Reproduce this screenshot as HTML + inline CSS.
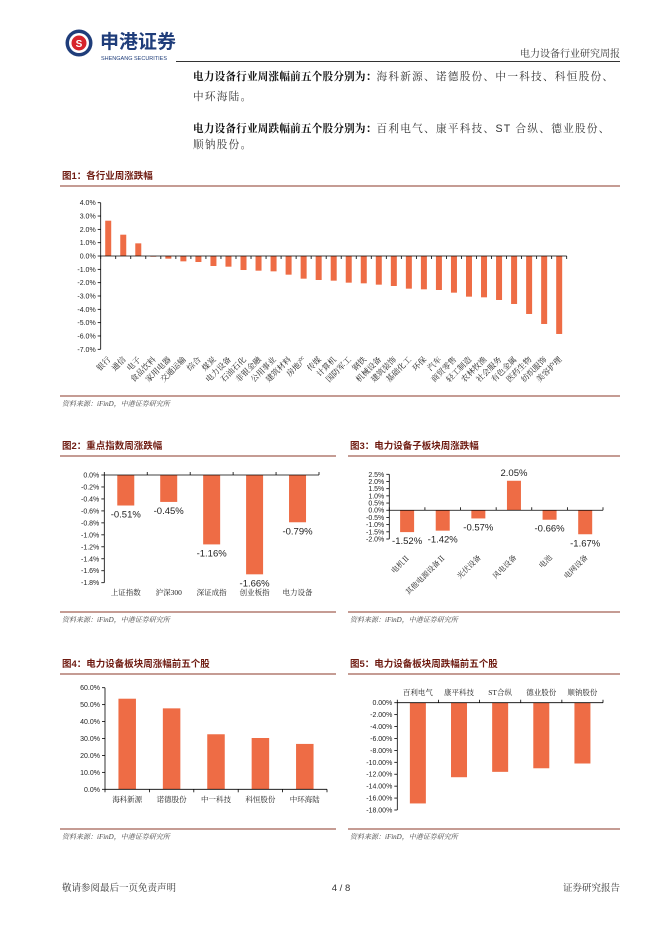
<!DOCTYPE html>
<html><head><meta charset="utf-8">
<style>
html,body{margin:0;padding:0;background:#fff;}
body{width:662px;height:936px;overflow:hidden;position:relative;font-family:"Liberation Serif","Noto Serif CJK SC",serif;}
svg text{font-family:"Liberation Sans","Noto Sans CJK SC",sans-serif;}
.p{position:absolute;left:193px;font-size:10.6px;color:#333;letter-spacing:1.3px;white-space:nowrap;font-family:"Liberation Serif","Noto Serif CJK SC",serif;}
.p b{color:#111;letter-spacing:0.2px}
</style></head>
<body>
<div class="p" style="top:69px"><b>电力设备行业周涨幅前五个股分别为：</b>海科新源、诺德股份、中一科技、科恒股份、</div>
<div class="p" style="top:89px">中环海陆。</div>
<div class="p" style="top:121px"><b>电力设备行业周跌幅前五个股分别为：</b>百利电气、康平科技、<span style="font-family:'Liberation Sans',sans-serif">ST</span> 合纵、德业股份、</div>
<div class="p" style="top:137px">顺钠股份。</div>

<svg id="page" width="662" height="936" style="position:absolute;left:0;top:0" xmlns="http://www.w3.org/2000/svg">
 <g>
  <circle cx="79" cy="43" r="13.5" fill="#1f3d7a"/>
  <circle cx="79" cy="43" r="10" fill="#fff"/>
  <circle cx="79" cy="43" r="7.5" fill="#d7242b"/>
  <text x="79" y="47" font-size="10" font-weight="bold" fill="#fff" text-anchor="middle">S</text>
  <text x="100" y="48" font-size="19" font-weight="bold" fill="#1f3d7a">申港证券</text>
  <text x="101" y="60" font-size="5.5" fill="#1f3d7a">SHENGANG SECURITIES</text>
 </g>
 <line x1="176" y1="61.5" x2="620" y2="61.5" stroke="#333" stroke-width="1"/>
 <text x="620" y="57" font-size="10" fill="#333" text-anchor="end" style="font-family:'Liberation Serif','Noto Serif CJK SC',serif">电力设备行业研究周报</text>
 <g id="charts"></g>
 <text x="62" y="891" font-size="9.5" fill="#333" style="font-family:'Liberation Serif','Noto Serif CJK SC',serif">敬请参阅最后一页免责声明</text>
 <text x="341" y="891" font-size="9.5" fill="#333" text-anchor="middle">4 / 8</text>
 <text x="620" y="891" font-size="9.5" fill="#333" text-anchor="end" style="font-family:'Liberation Serif','Noto Serif CJK SC',serif">证券研究报告</text>
</svg>

<script>
// Chart 1
const c1Cats = ["银行","通信","电子","食品饮料","家用电器","交通运输","综合","煤炭","电力设备","石油石化","非银金融","公用事业","建筑材料","房地产","传媒","计算机","国防军工","钢铁","机械设备","建筑装饰","基础化工","环保","汽车","商贸零售","轻工制造","农林牧渔","社会服务","有色金属","医药生物","纺织服饰","美容护理"];
const c1Vals = [2.65,1.6,0.95,-0.05,-0.2,-0.4,-0.45,-0.75,-0.8,-1.05,-1.1,-1.15,-1.4,-1.7,-1.8,-1.85,-2.0,-2.05,-2.15,-2.25,-2.45,-2.5,-2.55,-2.75,-3.05,-3.1,-3.3,-3.6,-4.35,-5.1,-5.85];
const c1Ticks = [4,3,2,1,0,-1,-2,-3,-4,-5,-6,-7];
// Chart 2
const c2Cats = ["上证指数","沪深300","深证成指","创业板指","电力设备"];
const c2Vals = [-0.51,-0.45,-1.16,-1.66,-0.79];
const c2Ticks = [0,-0.2,-0.4,-0.6,-0.8,-1.0,-1.2,-1.4,-1.6,-1.8];
// Chart 3
const c3Cats = ["电机Ⅱ","其他电源设备Ⅱ","光伏设备","风电设备","电池","电网设备"];
const c3Vals = [-1.52,-1.42,-0.57,2.05,-0.66,-1.67];
const c3Ticks = [2.5,2.0,1.5,1.0,0.5,0.0,-0.5,-1.0,-1.5,-2.0];
// Chart 4
const c4Cats = ["海科新源","诺德股份","中一科技","科恒股份","中环海陆"];
const c4Vals = [53.5,47.8,32.5,30.3,26.8];
const c4Ticks = [60,50,40,30,20,10,0];
// Chart 5
const c5Cats = ["百利电气","康平科技","ST合纵","德业股份","顺钠股份"];
const c5Vals = [-16.9,-12.5,-11.6,-11.0,-10.2];
const c5Ticks = [0,-2,-4,-6,-8,-10,-12,-14,-16,-18];

const NS="http://www.w3.org/2000/svg";
const root=document.getElementById('charts');
const BAR="#ee6c45";
function el(tag,attrs,parent,txt){const e=document.createElementNS(NS,tag);for(const k in attrs)e.setAttribute(k,attrs[k]);if(txt!==undefined)e.textContent=txt;(parent||root).appendChild(e);return e;}

function frame(id,title,x1,x2,titleY,lineY,srcY){
 const g=el('g',{});
 
 
 const t=el('text',{x:x1+2,y:titleY,'font-size':9.5,'font-weight':'bold',fill:'#6e1a10',style:"font-family:'Liberation Sans','Noto Sans CJK SC',sans-serif"},g,title);
 
 
 el('line',{x1:x1,y1:lineY,x2:x2,y2:lineY,stroke:'#8b3a2a','stroke-width':1},g);
 el('line',{x1:x1,y1:srcY,x2:x2,y2:srcY,stroke:'#8b3a2a','stroke-width':1},g);
 const s=el('text',{x:x1+2,y:srcY+10,'font-size':7,fill:'#444','font-style':'italic',style:"font-family:'Liberation Serif','Noto Serif CJK SC',serif"},g,'资料来源：iFinD，中港证券研究所');
 
 
}

function chart(o){
 const g=el('g',{});
 
 
 const n=o.cats.length, cw=(o.xEnd-o.x0)/n;
 const y=v=>o.yTop+(o.tMax-v)*(o.yBot-o.yTop)/(o.tMax-o.tMin);
 const xc=i=>o.x0+cw*(i+0.5);
 el('line',{x1:o.x0,y1:o.yTop,x2:o.x0,y2:o.yBot,stroke:'#000','stroke-width':0.8},g);
 o.ticks.forEach(t=>{
  el('line',{x1:o.x0-3,y1:y(t),x2:o.x0,y2:y(t),stroke:'#000','stroke-width':0.8},g);
  const tl=el('text',{x:o.x0-5,y:y(t)+2.5,'font-size':o.tfs,fill:'#222','text-anchor':'end'},g,o.fmt(t));
  
  
 });
 o.vals.forEach((v,i)=>{
  const y0=y(0),y1=y(v);
  const r=el('rect',{x:xc(i)-o.bw/2,y:Math.min(y0,y1),width:o.bw,height:Math.abs(y1-y0),fill:BAR},g);
  
  
  if(o.valLabels){
   const ly=v>=0?y1-5:y1+12;
   const vl=el('text',{x:xc(i),y:ly,'font-size':9.5,fill:'#222','text-anchor':'middle'},g,v.toFixed(2)+'%');
   
   
  }
 });
 const ay=y(0);
 el('line',{x1:o.x0,y1:ay,x2:o.xEnd,y2:ay,stroke:'#000','stroke-width':0.8},g);
 for(let i=0;i<=n;i++){
  el('line',{x1:o.x0+cw*i,y1:ay,x2:o.x0+cw*i,y2:ay+(o.tickUp?-3:3),stroke:'#000','stroke-width':0.8},g);
 }
 o.cats.forEach((c,i)=>{
  let t;
  if(o.rot){
   const lx=xc(i)+3, ly=o.labY;
   t=el('text',{x:lx,y:ly,'font-size':o.lfs,fill:'#222','text-anchor':'end',transform:`rotate(-45 ${lx} ${ly})`,style:"font-family:'Liberation Serif','Noto Serif CJK SC',serif"},g,c);
  } else {
   t=el('text',{x:xc(i),y:o.labY,'font-size':o.lfs,fill:'#222','text-anchor':'middle',style:"font-family:'Liberation Serif','Noto Serif CJK SC',serif"},g,c);
  }
  
  
 });
}

frame('fig1','图1：各行业周涨跌幅',60,620,179,186,396);
chart({id:'chart-industry-weekly',cats:c1Cats,vals:c1Vals,ticks:c1Ticks,tMax:4,tMin:-7,x0:100.7,xEnd:566.7,yTop:202.7,yBot:349.3,bw:6,tfs:7,lfs:8,rot:true,labY:360,fmt:t=>t.toFixed(1)+'%'});

frame('fig2','图2：重点指数周涨跌幅',60,336,449,456,612);
chart({id:'chart-index-weekly',cats:c2Cats,vals:c2Vals,ticks:c2Ticks,tMax:0,tMin:-1.8,x0:104.3,xEnd:319,yTop:475,yBot:582.7,bw:17,tfs:7,lfs:7.5,rot:false,labY:595,valLabels:true,tickUp:true,fmt:t=>t.toFixed(1)+'%'});

frame('fig3','图3：电力设备子板块周涨跌幅',348,620,449,456,612);
chart({id:'chart-subsector-weekly',cats:c3Cats,vals:c3Vals,ticks:c3Ticks,tMax:2.5,tMin:-2.0,x0:389.3,xEnd:603,yTop:474.3,yBot:539,bw:14,tfs:7,lfs:7.5,rot:true,labY:558,valLabels:true,tickUp:true,fmt:t=>t.toFixed(1)+'%'});

frame('fig4','图4：电力设备板块周涨幅前五个股',60,336,667,674,829);
chart({id:'chart-top-gainers',cats:c4Cats,vals:c4Vals,ticks:c4Ticks,tMax:60,tMin:0,x0:105,xEnd:327,yTop:687.7,yBot:789.3,bw:17.5,tfs:7,lfs:7.5,rot:false,labY:802,fmt:t=>t.toFixed(1)+'%'});

frame('fig5','图5：电力设备板块周跌幅前五个股',348,620,667,674,829);
chart({id:'chart-top-losers',cats:c5Cats,vals:c5Vals,ticks:c5Ticks,tMax:0,tMin:-18,x0:397.3,xEnd:603,yTop:702.7,yBot:810,bw:16,tfs:7,lfs:7.5,rot:false,labY:695,tickUp:true,fmt:t=>t.toFixed(2)+'%'});
</script>
</body></html>
